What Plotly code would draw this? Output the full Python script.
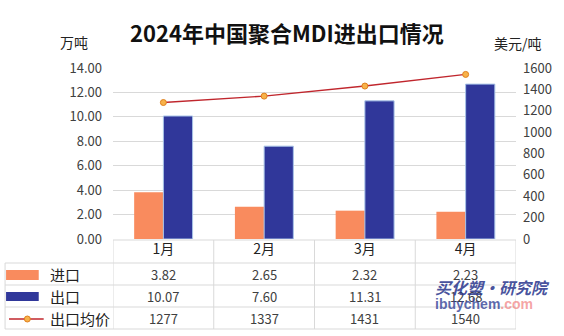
import plotly.graph_objects as go

months = ["1月", "2月", "3月", "4月"]
imports = [3.82, 2.65, 2.32, 2.23]
exports = [10.07, 7.60, 11.31, 12.68]
avg_price = [1277, 1337, 1431, 1540]
import_labels = ["3.82", "2.65", "2.32", "2.23"]
export_labels = ["10.07", "7.60", "11.31", "12.68"]
price_labels = ["1277", "1337", "1431", "1540"]

W, H = 564, 336
L, R, T, B = 113, 520, 68, 239  # plot area in pixels

FONT = "Noto Sans CJK SC"
C_IMP = "#F98B5E"
C_EXP = "#30379A"
C_LINE = "#C0262D"
GRID = "#D9D9D9"
TXT = "#404040"


def py(p):
    return (B - p) / (B - T)


def px(p):
    return (p - L) / (R - L)


fig = go.Figure()
fig.add_trace(go.Bar(x=months, y=imports, name="进口", marker=dict(color=C_IMP, line=dict(width=0))))
fig.add_trace(go.Bar(x=months, y=exports, name="出口",
                     marker=dict(color=C_EXP, line=dict(color="#A9C4E8", width=1))))
fig.add_trace(go.Scatter(x=months, y=avg_price, name="出口均价", yaxis="y2", mode="lines+markers",
                         line=dict(color=C_LINE, width=1.4),
                         marker=dict(size=6, color="#F7B24A", line=dict(color="#E0801E", width=1))))

shapes = []
# table horizontal lines
shapes.append(dict(type="line", xref="paper", yref="paper", x0=0, x1=1, y0=py(240), y1=py(240),
                   line=dict(color=GRID, width=1)))
for yy in [263, 285, 307, 329]:
    shapes.append(dict(type="line", xref="paper", yref="paper", x0=px(4), x1=1, y0=py(yy), y1=py(yy),
                       line=dict(color=GRID, width=1)))
# table vertical lines
shapes.append(dict(type="line", xref="paper", yref="paper", x0=px(4), x1=px(4), y0=py(263), y1=py(329),
                   line=dict(color=GRID, width=1)))
for xv in [-0.5, 0.5, 1.5, 2.5, 3.5]:
    shapes.append(dict(type="line", xref="x", yref="paper", x0=xv, x1=xv, y0=py(240), y1=py(329),
                       line=dict(color=GRID, width=1)))
# legend keys
shapes.append(dict(type="rect", xref="paper", yref="paper", x0=px(5), x1=px(38), y0=py(280), y1=py(270),
                   fillcolor=C_IMP, line=dict(width=0)))
shapes.append(dict(type="rect", xref="paper", yref="paper", x0=px(5), x1=px(38), y0=py(301), y1=py(292),
                   fillcolor=C_EXP, line=dict(width=0)))
shapes.append(dict(type="line", xref="paper", yref="paper", x0=px(8), x1=px(43), y0=py(319), y1=py(319),
                   line=dict(color=C_LINE, width=1.4)))
shapes.append(dict(type="circle", xref="paper", yref="paper", x0=px(23.5), x1=px(29.5), y0=py(322), y1=py(316),
                   fillcolor="#F7B24A", line=dict(color="#E0801E", width=1)))

ann = []
ann.append(dict(text="<b>2024年中国聚合MDI进出口情况</b>", xref="paper", yref="paper", x=px(289), y=py(32),
                showarrow=False, font=dict(family=FONT, size=22, color="#111111"), xanchor="center", yanchor="middle"))
ann.append(dict(text="万吨", xref="paper", yref="paper", x=px(74), y=py(42), showarrow=False,
                font=dict(family=FONT, size=14, color="#222222"), xanchor="center", yanchor="middle"))
ann.append(dict(text="美元/吨", xref="paper", yref="paper", x=px(522), y=py(43), showarrow=False,
                font=dict(family=FONT, size=14, color="#222222"), xanchor="center", yanchor="middle"))
rows = [("进口", import_labels, 274), ("出口", export_labels, 296), ("出口均价", price_labels, 318)]
for name, labels, yc in rows:
    ann.append(dict(text=name, xref="paper", yref="paper", x=px(47), y=py(yc), showarrow=False,
                    font=dict(family=FONT, size=15, color="#222222"), xanchor="left", yanchor="middle"))
    for m, lab in zip(months, labels):
        ann.append(dict(text=lab, xref="x", yref="paper", x=m, y=py(yc), showarrow=False,
                        font=dict(family=FONT, size=13, color=TXT), xanchor="center", yanchor="middle"))
# watermark
ann.append(dict(text="<b><i>买化塑·研究院</i></b>", xref="paper", yref="paper", x=px(436), y=py(287),
                showarrow=False, font=dict(family=FONT, size=16, color="rgba(40,52,140,0.85)"),
                xanchor="left", yanchor="middle"))
ann.append(dict(text="<b>ibuychem<span style='color:rgba(240,120,120,0.85)'>.com</span></b>", xref="paper",
                yref="paper", x=px(436), y=py(304), showarrow=False,
                font=dict(family="Liberation Sans", size=14, color="rgba(50,65,150,0.8)"),
                xanchor="left", yanchor="middle"))

fig.update_layout(
    width=W, height=H,
    margin=dict(l=L, r=W - R, t=T, b=H - B),
    paper_bgcolor="white", plot_bgcolor="white",
    barmode="group", bargap=0.42, bargroupgap=0,
    showlegend=False,
    font=dict(family=FONT, size=13, color=TXT),
    xaxis=dict(type="category", range=[-0.5, 3.5], showgrid=False, zeroline=False, showline=False,
               ticks="", tickfont=dict(family=FONT, size=14, color="#222222"), ticklabelstandoff=0),
    yaxis=dict(range=[0, 14], dtick=2, tickformat=".2f", showgrid=True, gridcolor=GRID, gridwidth=1,
               zeroline=False, showline=False, ticks="", ticklabelstandoff=10,
               tickfont=dict(family=FONT, size=13, color=TXT)),
    yaxis2=dict(range=[0, 1600], dtick=200, overlaying="y", side="right", showgrid=False, zeroline=False,
                showline=False, ticks="", ticklabelstandoff=6,
                tickfont=dict(family=FONT, size=13, color=TXT)),
    shapes=shapes,
    annotations=ann,
)

fig.write_html("out.html")
